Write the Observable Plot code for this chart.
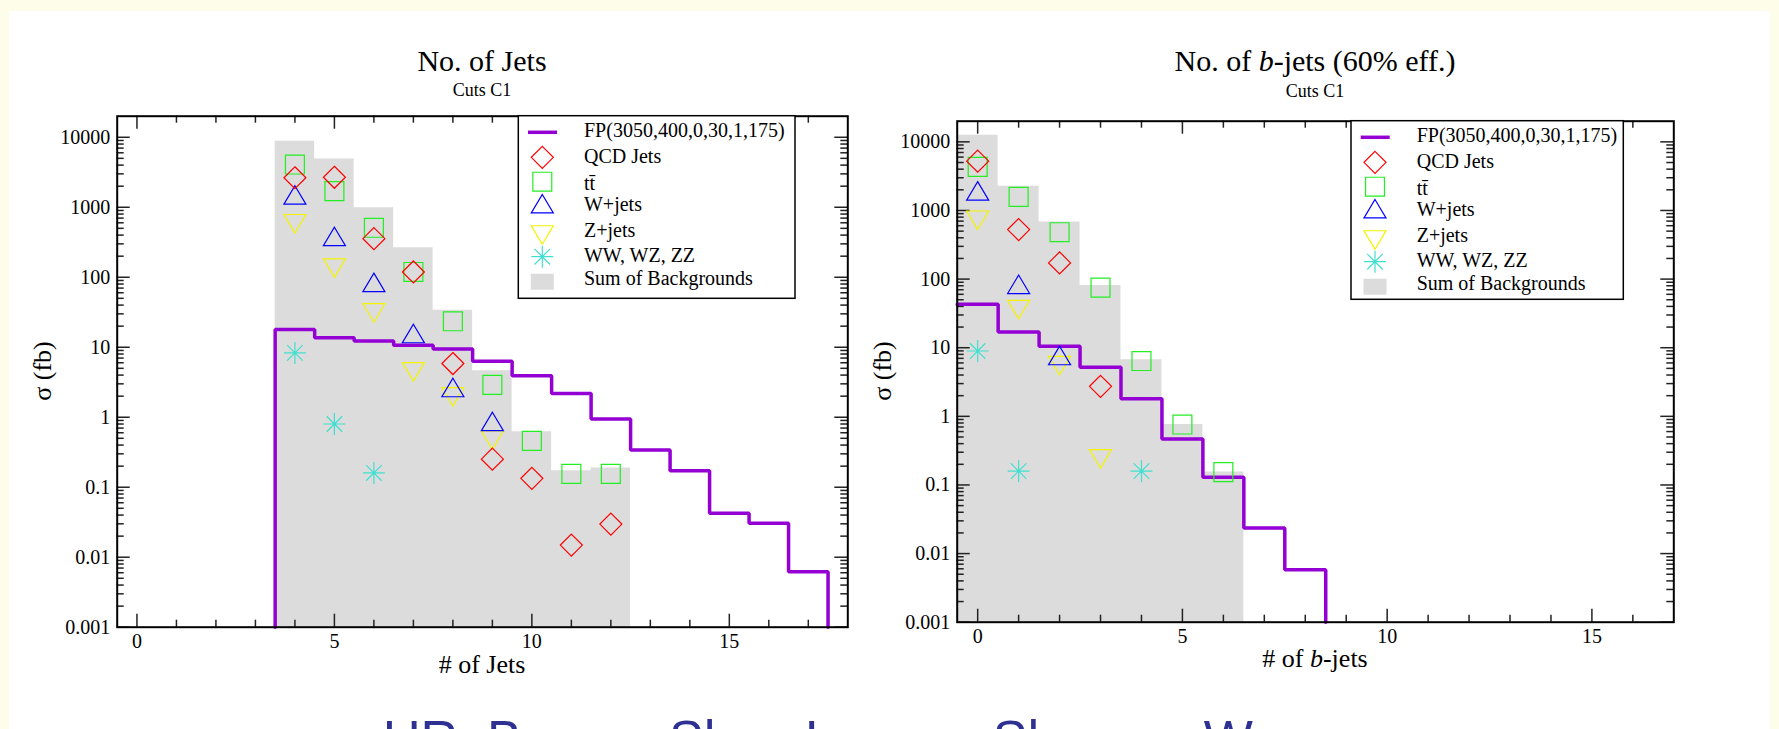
<!DOCTYPE html>
<html><head><meta charset="utf-8">
<script src="https://cdn.jsdelivr.net/npm/d3@7"></script>
<script src="https://cdn.jsdelivr.net/npm/@observablehq/plot@0.6"></script>
<style>
body{margin:0;background:#fdfde9;}
#page{position:relative;width:1779px;height:729px;overflow:hidden;}
.abs{position:absolute;}
</style></head><body>
<div id="page">
<div class="abs" style="left:9px;top:11px;width:1761px;height:718px;background:#fff"></div>
<div id="left" class="abs" style="left:0;top:0;width:870px;height:700px"></div>
<div id="right" class="abs" style="left:890px;top:0;width:889px;height:700px"></div>
<svg id="overlay" class="abs" width="1779" height="729" style="left:0;top:0;"></svg>
</div>
<script>
// ---------------- DATA ----------------
// Left panel: number of jets
const jetSumBins = [4, 5, 6, 7, 8, 9, 10, 11, 12];
const jetSumValues = [8800, 4900, 985, 264, 33.7, 4.6, 0.62, 0.172, 0.188];
const jetFPBins = [4, 5, 6, 7, 8, 9, 10, 11, 12, 13, 14, 15, 16, 17];
const jetFPValues = [17.9, 13.7, 12.3, 10.7, 9.4, 6.3, 3.9, 2.18, 0.94, 0.34, 0.172, 0.0425, 0.0306, 0.0062];
const jetQCDx = [4, 5, 6, 7, 8, 9, 10, 11, 12];
const jetQCDy = [2640, 2680, 356, 119, 5.85, 0.252, 0.134, 0.0149, 0.0297];
const jetTTx = [4, 5, 6, 7, 8, 9, 10, 11, 12];
const jetTTy = [4080, 1700, 509, 119, 23.5, 2.9, 0.46, 0.155, 0.155];
const jetWx = [4, 5, 6, 7, 8, 9];
const jetWy = [1500, 383, 84.5, 15.7, 2.66, 0.87];
const jetZx = [4, 5, 6, 7, 8, 9];
const jetZy = [581, 135, 30.9, 4.45, 1.95, 0.47];
const jetVVx = [4, 5, 6];
const jetVVy = [8.3, 0.80, 0.16];

// Right panel: number of b-jets
const bSumBins = [0, 1, 2, 3, 4, 5, 6];
const bSumValues = [12500, 2260, 681, 80.5, 6.7, 0.76, 0.154];
const bFPBins = [0, 1, 2, 3, 4, 5, 6, 7, 8];
const bFPValues = [43, 17, 10.5, 5.2, 1.8, 0.467, 0.13, 0.0235, 0.0058];
const bQCDx = [0, 1, 2, 3];
const bQCDy = [5230, 527, 172, 2.74];
const bTTx = [0, 1, 2, 3, 4, 5, 6];
const bTTy = [4320, 1580, 482, 75, 6.4, 0.76, 0.154];
const bWx = [0, 1, 2];
const bWy = [1930, 84, 7.7];
const bZx = [0, 1, 2, 3];
const bZy = [721, 36, 5.5, 0.24];
const bVVx = [0, 1, 4];
const bVVy = [8.95, 0.159, 0.159];

// Axes
const yDomain = [0.001, 20000];
const yMajor = [0.001, 0.01, 0.1, 1, 10, 100, 1000, 10000];
const yLabels = ["0.001", "0.01", "0.1", "1", "10", "100", "1000", "10000"];
const yMinorSteps = [2, 3, 4, 5, 6, 7, 8, 9];
const xMajor = [0, 5, 10, 15];
const xLabels = ["0", "5", "10", "15"];

const legendNames = ["FP(3050,400,0,30,1,175)", "QCD Jets", "tt\u0304", "W+jets", "Z+jets", "WW, WZ, ZZ", "Sum of Backgrounds"];

// ---------------- STYLE ----------------
const serif = "'Liberation Serif', 'Times New Roman', serif";
const purple = "#9400d3";
const grayFill = "#dcdcdc";
const colors = {qcd: "#ff0000", tt: "#22ee22", w: "#0000ff", z: "#f4f400", vv: "#40e0d0"};

function R(size) { return Math.sqrt(size / Math.PI); }
const symDiamond = {draw(c, s) { const r = R(s); c.moveTo(0, -r); c.lineTo(r, 0); c.lineTo(0, r); c.lineTo(-r, 0); c.closePath(); }};
const symSquare = {draw(c, s) { const h = R(s) * 0.86; c.moveTo(-h, -h); c.lineTo(h, -h); c.lineTo(h, h); c.lineTo(-h, h); c.closePath(); }};
const symTriUp = {draw(c, s) { const r = R(s), h = r * 0.84; c.moveTo(0, -h); c.lineTo(r, h); c.lineTo(-r, h); c.closePath(); }};
const symTriDown = {draw(c, s) { const r = R(s), h = r * 0.84; c.moveTo(0, h); c.lineTo(r, -h); c.lineTo(-r, -h); c.closePath(); }};
const symStar = {draw(c, s) { const r = R(s); for (const a of [0, 45, 90, 135]) { const t = a * Math.PI / 180; c.moveTo(-r * Math.cos(t), -r * Math.sin(t)); c.lineTo(r * Math.cos(t), r * Math.sin(t)); } }};

const rDot = 11;

function histPath(bins, values, fromBottom) {
  const p = [];
  if (fromBottom) p.push({x: bins[0] - 0.5, y: yDomain[0]});
  bins.forEach((b, i) => { p.push({x: b - 0.5, y: values[i]}, {x: b + 0.5, y: values[i]}); });
  p.push({x: bins[bins.length - 1] + 0.5, y: yDomain[0]});
  return p;
}

function drawChart(el, cfg) {
  const {width, height, ml, mr, mt, mb, xDomain, xMinorMax, sumBins, sumValues, fpBins, fpValues, fpFromBottom, series} = cfg;
  const fw = width - ml - mr, fh = height - mt - mb;
  const gray = histPath(sumBins, sumValues, false);
  const path = histPath(fpBins, fpValues, fpFromBottom);
  const xMinor = d3.range(1, xMinorMax + 1).filter(d => d % 5 !== 0);
  const yMinor = [];
  yMajor.forEach(d => yMinorSteps.forEach(k => { if (d * k < yDomain[1]) yMinor.push(d * k); }));
  const tk = {stroke: "#222", strokeWidth: 1.5};
  const marks = [
    Plot.areaY(gray, {x: "x", y1: yDomain[0], y2: "y", fill: grayFill}),
    Plot.tickX(xMajor, {x: d => d, insetTop: fh - 13, ...tk}),
    Plot.tickX(xMajor, {x: d => d, insetBottom: fh - 13, ...tk}),
    Plot.tickX(xMinor, {x: d => d, insetTop: fh - 7, ...tk}),
    Plot.tickX(xMinor, {x: d => d, insetBottom: fh - 7, ...tk}),
    Plot.tickY(yMajor, {y: d => d, insetRight: fw - 13, ...tk}),
    Plot.tickY(yMajor, {y: d => d, insetLeft: fw - 13, ...tk}),
    Plot.tickY(yMinor, {y: d => d, insetRight: fw - 7, ...tk}),
    Plot.tickY(yMinor, {y: d => d, insetLeft: fw - 7, ...tk}),
    Plot.line(path, {x: "x", y: "y", stroke: purple, strokeWidth: 3.5, strokeLinejoin: "miter"}),
  ];
  for (const s of series) {
    marks.push(Plot.dot(s.x.map((x, i) => ({x, y: s.y[i]})), {x: "x", y: "y", symbol: s.symbol, r: rDot, stroke: s.color, strokeWidth: 1.2, fill: "none"}));
  }
  marks.push(
    Plot.axisX({ticks: xMajor, tickFormat: d => xLabels[xMajor.indexOf(d)], tickSize: 0, tickPadding: 7, label: null, fontSize: 20}),
    Plot.axisY({ticks: yMajor, tickFormat: d => yLabels[yMajor.indexOf(d)], tickSize: 0, tickPadding: 7, label: null, fontSize: 20}),
    Plot.frame({stroke: "#000", strokeWidth: 2})
  );
  const svg = Plot.plot({
    width, height, marginLeft: ml, marginRight: mr, marginTop: mt, marginBottom: mb,
    x: {type: "linear", domain: xDomain},
    y: {type: "log", domain: yDomain},
    style: {background: "transparent", fontFamily: serif, fontSize: "20px", color: "#000"},
    marks
  });
  el.appendChild(svg);
}

const symFor = [null, symDiamond, symSquare, symTriUp, symTriDown, symStar];

drawChart(document.getElementById("left"), {
  width: 870, height: 700, ml: 116.7, mr: 22.7, mt: 115.7, mb: 73.3,
  xDomain: [-0.5, 18], xMinorMax: 17,
  sumBins: jetSumBins, sumValues: jetSumValues, fpBins: jetFPBins, fpValues: jetFPValues, fpFromBottom: true,
  series: [
    {x: jetVVx, y: jetVVy, symbol: symStar, color: colors.vv},
    {x: jetZx, y: jetZy, symbol: symTriDown, color: colors.z},
    {x: jetWx, y: jetWy, symbol: symTriUp, color: colors.w},
    {x: jetTTx, y: jetTTy, symbol: symSquare, color: colors.tt},
    {x: jetQCDx, y: jetQCDy, symbol: symDiamond, color: colors.qcd}
  ]
});
drawChart(document.getElementById("right"), {
  width: 889, height: 700, ml: 66.7, mr: 105.7, mt: 120.7, mb: 78.3,
  xDomain: [-0.5, 17], xMinorMax: 16,
  sumBins: bSumBins, sumValues: bSumValues, fpBins: bFPBins, fpValues: bFPValues, fpFromBottom: false,
  series: [
    {x: bVVx, y: bVVy, symbol: symStar, color: colors.vv},
    {x: bZx, y: bZy, symbol: symTriDown, color: colors.z},
    {x: bWx, y: bWy, symbol: symTriUp, color: colors.w},
    {x: bTTx, y: bTTy, symbol: symSquare, color: colors.tt},
    {x: bQCDx, y: bQCDy, symbol: symDiamond, color: colors.qcd}
  ]
});

// ---------------- TEXT, LEGENDS ----------------
const ov = d3.select("#overlay");
function text(x, y, parts, size, opts = {}) {
  const t = ov.append("text")
    .attr("x", x).attr("y", y)
    .attr("text-anchor", opts.anchor || "middle")
    .attr("font-family", opts.family || serif)
    .attr("font-size", size)
    .attr("fill", opts.fill || "#000");
  if (opts.rotate) t.attr("transform", `rotate(${opts.rotate},${x},${y})`);
  for (const p of parts) {
    const s = t.append("tspan").text(typeof p === "string" ? p : p.t);
    if (typeof p !== "string" && p.italic) s.attr("font-style", "italic");
  }
  return t;
}
// titles
text(482, 71, ["No. of Jets"], 30);
text(482, 96, ["Cuts C1"], 18);
text(1315, 71, ["No. of ", {t: "b", italic: true}, "-jets (60% eff.)"], 30);
text(1315, 97, ["Cuts C1"], 18);
// axis labels
text(482, 673, ["# of Jets"], 26);
text(1315, 667, ["# of ", {t: "b", italic: true}, "-jets"], 26);
text(51, 371, ["\u03c3 (fb)"], 26, {rotate: -90});
text(891, 371, ["\u03c3 (fb)"], 26, {rotate: -90});

function legend(x0, y0, w, h) {
  const g = ov.append("g").attr("transform", `translate(${x0},${y0})`);
  g.append("rect").attr("width", w).attr("height", h).attr("fill", "#fff").attr("stroke", "#000").attr("stroke-width", 1.5);
  const symY = [16.6, 41.6, 66, 88, 119.3, 141, 166];
  const txtY = [21, 47, 74, 95, 121, 146, 169.5];
  const cols = [purple, colors.qcd, colors.tt, colors.w, colors.z, colors.vv, grayFill];
  g.append("line").attr("x1", 9.7).attr("x2", 38.7).attr("y1", symY[0]).attr("y2", symY[0]).attr("stroke", purple).attr("stroke-width", 3.5);
  for (let i = 1; i <= 5; i++) {
    g.append("path").attr("d", d3.symbol(symFor[i], Math.PI * rDot * rDot)())
      .attr("transform", `translate(24,${symY[i]})`).attr("fill", "none").attr("stroke", cols[i]).attr("stroke-width", 1.2);
  }
  g.append("rect").attr("x", 12.5).attr("y", symY[6] - 8).attr("width", 23).attr("height", 16).attr("fill", grayFill);
  legendNames.forEach((n, i) => {
    g.append("text").attr("x", 65.7).attr("y", txtY[i]).attr("font-family", serif).attr("font-size", 20).attr("fill", "#000").text(n);
  });
}
legend(518.3, 115.7, 276.7, 182.6);
legend(1351, 120.7, 272.3, 178.6);

// footer (clipped at the bottom edge, as in the reference)
text(383, 757, ["UR, Barger, Sher, Larsen, Sharma, Wu"], 52, {anchor: "start", family: "'Liberation Sans', Arial, sans-serif", fill: "#2e3192"});
</script>
</body></html>
